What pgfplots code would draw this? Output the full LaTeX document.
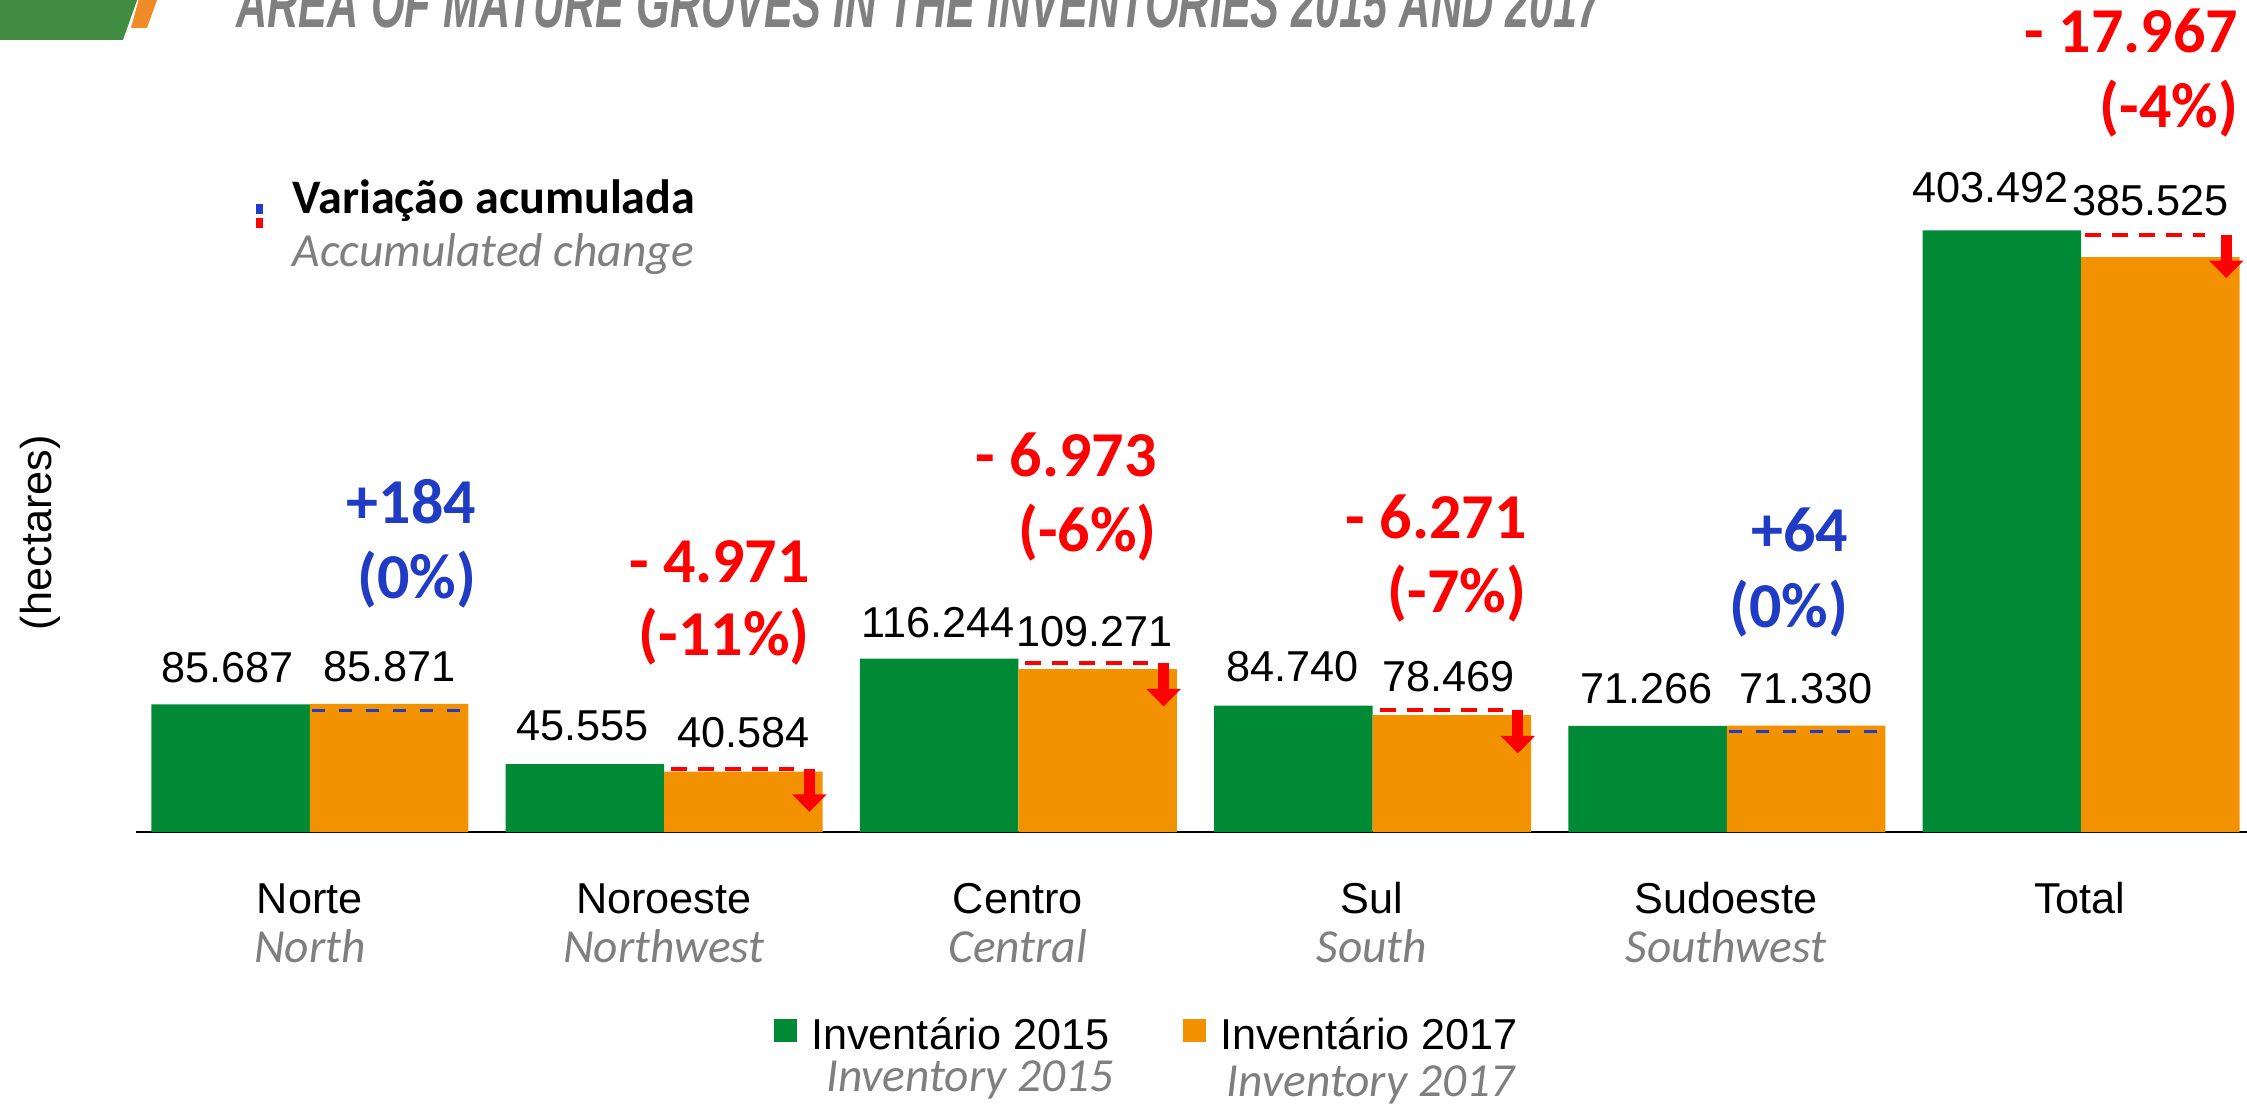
\documentclass[border=0pt]{standalone}
\usepackage{graphicx}
\usepackage{pgfplots}
\pgfplotsset{compat=1.18}
\usepackage{pgfplotstable}
\usepackage{fontspec}
\usetikzlibrary{arrows.meta}
\setmainfont{Liberation Sans}
\newfontfamily\calibri{Carlito}

\definecolor{cgreen}{RGB}{0,138,54}
\definecolor{corange}{RGB}{242,146,0}
\definecolor{cred}{RGB}{255,0,0}
\definecolor{cblue}{RGB}{32,60,196}
\definecolor{cgray}{RGB}{127,127,127}
\definecolor{tgray}{RGB}{128,128,128}
\definecolor{logogreen}{RGB}{64,140,64}
\definecolor{logoorange}{RGB}{240,140,40}

% x = category index, y = thousand hectares, lab = printed value, xo/yo = label offsets (pt)
\pgfplotstableread{
x y lab xo yo
0 85.687 85.687 -0.8 6.3
1 45.555 45.555 -0.6 6.8
2 116.244 116.244 -0.3 6.0
3 84.740 84.740 -0.3 6.8
4 71.266 71.266 -0.3 6.3
5 403.492 403.492 -3.1 8.0
}\greentab

\pgfplotstableread{
x y lab xo yo
0 85.871 85.871 0 6.3
1 40.584 40.584 0 6.8
2 109.271 109.271 -0.85 6.5
3 78.469 78.469 -0.85 6.8
4 71.330 71.330 0 6.3
5 385.525 385.525 -2.7 12.0
}\orangetab

\newcommand{\chgfont}{\calibri\bfseries\fontsize{18.2}{21}\selectfont}
\newcommand{\numfont}{\fontsize{12.3}{14}\selectfont}
\newcommand{\subfont}{\calibri\itshape\fontsize{13.5}{16}\selectfont}

\begin{document}
\begin{tikzpicture}
\begin{axis}[
  scale only axis,
  width=21.11cm, height=8.32cm,
  xmin=-0.4912, xmax=5.4687,
  ymin=0, ymax=558.0,
  axis x line*=bottom,
  axis y line=none,
  xtick=\empty, ytick=\empty,
  x axis line style={black, line width=0.8pt},
  clip=false,
]
\addplot[ybar, bar width=1.585cm, bar shift=-0.7925cm, fill=cgreen, draw=none,
  nodes near coords, point meta=explicit symbolic,
  visualization depends on={\thisrow{xo}\as\xo},
  visualization depends on={\thisrow{yo}\as\yo},
  every node near coord/.append style={anchor=base, xshift=-0.7925cm, xshift=\xo pt, yshift=\yo pt,
    font=\numfont, text=black, inner sep=0pt}]
  table[x=x, y=y, meta=lab]{\greentab};
\addplot[ybar, bar width=1.585cm, bar shift=0.7925cm, fill=corange, draw=none,
  nodes near coords, point meta=explicit symbolic,
  visualization depends on={\thisrow{xo}\as\xo},
  visualization depends on={\thisrow{yo}\as\yo},
  every node near coord/.append style={anchor=base, xshift=0.7925cm, xshift=\xo pt, yshift=\yo pt,
    font=\numfont, text=black, inner sep=0pt}]
  table[x=x, y=y, meta=lab]{\orangetab};

% accumulated change markers (red = decrease, blue = increase)
\addplot[cred, line width=1.14pt, dash pattern=on 4.55pt off 3.13pt] coordinates {(1.02,42.6) (1.367,42.6)};
\addplot[cred, line width=1.14pt, dash pattern=on 4.55pt off 3.13pt] coordinates {(2.02,113.2) (2.367,113.2)};
\addplot[cred, line width=1.14pt, dash pattern=on 4.55pt off 3.13pt] coordinates {(3.02,81.7) (3.367,81.7)};
\addplot[cred, line width=1.14pt, dash pattern=on 4.55pt off 3.13pt] coordinates {(5.01,400.5) (5.35,400.5)};
\addplot[cred, line width=3.1pt, -{Triangle[width=9.5pt,length=5pt]}] coordinates {(1.41,42.6) (1.41,13.5)};
\addplot[cred, line width=3.1pt, -{Triangle[width=9.5pt,length=5pt]}] coordinates {(2.41,113.2) (2.41,84.2)};
\addplot[cred, line width=3.1pt, -{Triangle[width=9.5pt,length=5pt]}] coordinates {(3.41,81.7) (3.41,52.7)};
\addplot[cred, line width=3.1pt, -{Triangle[width=9.5pt,length=5pt]}] coordinates {(5.41,400.5) (5.41,371.5)};
\addplot[cblue, line width=0.94pt, dash pattern=on 3.7pt off 4pt] coordinates {(0.005,81.7) (0.43,81.7)};
\addplot[cblue, line width=0.94pt, dash pattern=on 3.7pt off 4pt] coordinates {(4.005,67.3) (4.43,67.3)};
\end{axis}

\begin{scope}[x=0.01cm, y=-0.01cm, shift={(-1.36cm,8.32cm)}]
  % logo corner
  \fill[logogreen] (0,-5) -- (139,-5) -- (123,40) -- (0,40) -- cycle;
  \fill[logoorange] (140,-5) -- (159,-5) -- (147,28) -- (131,28) -- cycle;
  % title
  \node[anchor=base west, inner sep=0pt, text=tgray] at (236,28)
    {\resizebox{13.65cm}{0.48cm}{\bfseries\itshape AREA OF MATURE GROVES IN THE INVENTORIES 2015 AND 2017}};
  % y label
  \node[rotate=90, inner sep=0pt, font=\numfont] at (40,533) {(hectares)};
  % accumulated change legend
  \fill[cblue] (256,204) rectangle (263,214);
  \fill[cred] (256,218) rectangle (263,228);
  \node[anchor=base west, inner sep=0pt, font=\calibri\bfseries\fontsize{13.7}{16}\selectfont] at (292,214) {Variação acumulada};
  \node[anchor=base west, inner sep=0pt, font=\subfont, text=cgray] at (292,267) {Accumulated change};
  % change labels
  \node[anchor=base east, inner sep=0pt, font=\chgfont, text=cblue] at (477,524) {+184};
  \node[anchor=base east, inner sep=0pt, font=\chgfont, text=cblue] at (477,599) {(0\%)};
  \node[anchor=base east, inner sep=0pt, font=\chgfont, text=cred] at (811,583) {- 4.971};
  \node[anchor=base east, inner sep=0pt, font=\chgfont, text=cred] at (811,656) {(-11\%)};
  \node[anchor=base east, inner sep=0pt, font=\chgfont, text=cred] at (1158,477) {- 6.973};
  \node[anchor=base east, inner sep=0pt, font=\chgfont, text=cred] at (1158,552) {(-6\%)};
  \node[anchor=base east, inner sep=0pt, font=\chgfont, text=cred] at (1528,539) {- 6.271};
  \node[anchor=base east, inner sep=0pt, font=\chgfont, text=cred] at (1528,613) {(-7\%)};
  \node[anchor=base east, inner sep=0pt, font=\chgfont, text=cblue] at (1850,552) {+64};
  \node[anchor=base east, inner sep=0pt, font=\chgfont, text=cblue] at (1850,628) {(0\%)};
  \node[anchor=base east, inner sep=0pt, font=\chgfont, text=cred] at (2240,53) {- 17.967};
  \node[anchor=base east, inner sep=0pt, font=\chgfont, text=cred] at (2240,128) {(-4\%)};
  % category labels
  \foreach \cx/\pt/\en in {310/Norte/North, 664.2/Noroeste/Northwest, 1018.4/Centro/Central, 1372.6/Sul/South, 1726.8/Sudoeste/Southwest, 2081/Total/{}} {
    \node[anchor=base, inner sep=0pt, font=\numfont] at (\cx,914) {\pt};
    \node[anchor=base, inner sep=0pt, font=\subfont, text=cgray] at (\cx,963) {\en};
  }
  % series legend
  \fill[cgreen] (774,1020) rectangle (797,1043);
  \node[anchor=base west, inner sep=0pt, font=\numfont] at (811,1050) {Inventário 2015};
  \node[anchor=base east, inner sep=0pt, font=\subfont, text=cgray] at (1115,1092) {Inventory 2015};
  \fill[corange] (1184,1020) rectangle (1207,1043);
  \node[anchor=base west, inner sep=0pt, font=\numfont] at (1220,1050) {Inventário 2017};
  \node[anchor=base east, inner sep=0pt, font=\subfont, text=cgray] at (1516,1097) {Inventory 2017};
\end{scope}

\pgfresetboundingbox
\useasboundingbox (-1.36cm,-2.75cm) rectangle (21.11cm,8.32cm);
\end{tikzpicture}
\end{document}
